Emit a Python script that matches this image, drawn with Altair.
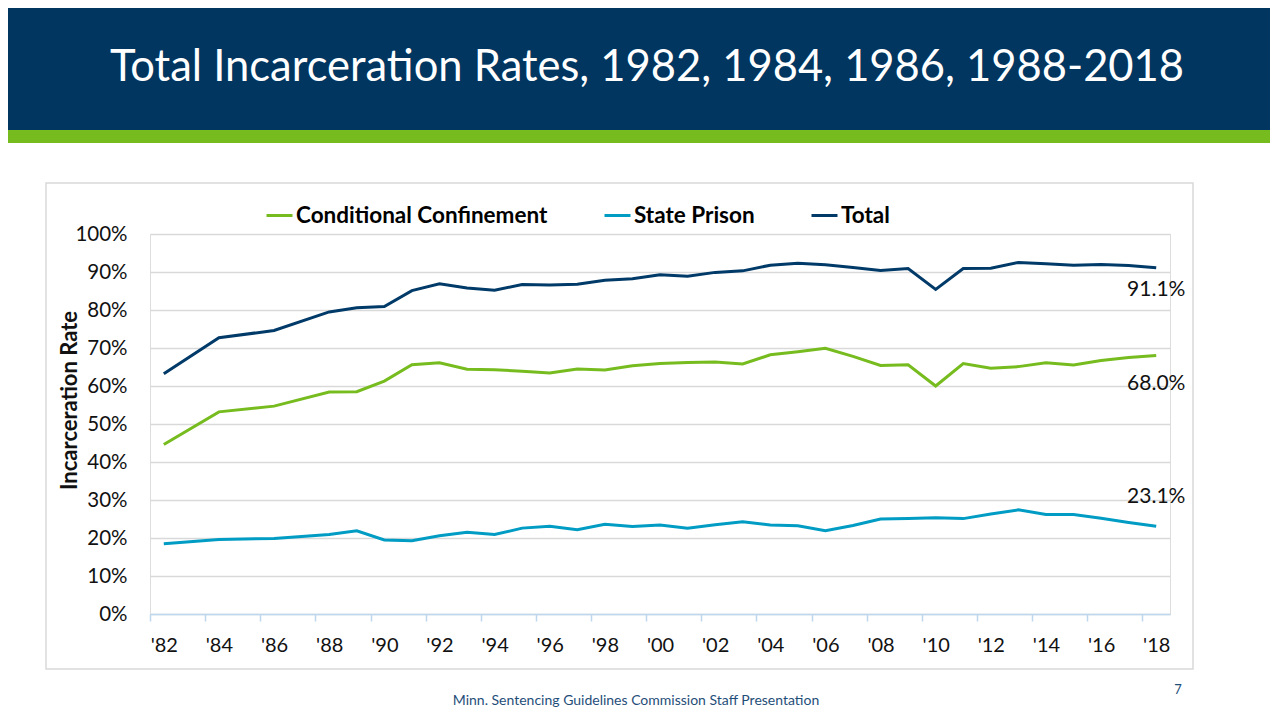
import altair as alt
import pandas as pd

# ---------------- data ----------------
years = [1982, 1984, 1986, 1988, 1989, 1990, 1991, 1992, 1993, 1994, 1995, 1996,
         1997, 1998, 1999, 2000, 2001, 2002, 2003, 2004, 2005, 2006, 2007, 2008,
         2009, 2010, 2011, 2012, 2013, 2014, 2015, 2016, 2017, 2018]
conditional = [44.6, 53.2, 54.7, 58.4, 58.5, 61.3, 65.6, 66.1, 64.4, 64.3, 63.9, 63.4,
               64.5, 64.2, 65.3, 65.9, 66.2, 66.3, 65.8, 68.2, 69.0, 69.9, 67.8, 65.4,
               65.6, 60.0, 65.9, 64.7, 65.1, 66.1, 65.5, 66.7, 67.5, 68.0]
state_prison = [18.5, 19.6, 19.9, 20.9, 21.9, 19.5, 19.3, 20.6, 21.5, 20.9, 22.6, 23.1,
                22.2, 23.6, 23.0, 23.4, 22.6, 23.5, 24.3, 23.4, 23.2, 21.9, 23.3, 25.0,
                25.1, 25.3, 25.1, 26.3, 27.4, 26.2, 26.2, 25.2, 24.1, 23.1]
total = [63.2, 72.7, 74.6, 79.5, 80.6, 80.9, 85.1, 86.9, 85.8, 85.2, 86.7, 86.6,
         86.8, 87.8, 88.2, 89.3, 88.9, 89.9, 90.3, 91.8, 92.3, 91.9, 91.2, 90.4,
         90.9, 85.4, 90.9, 91.0, 92.5, 92.2, 91.8, 92.0, 91.7, 91.1]
series_names = ["Conditional Confinement", "State Prison", "Total"]
series_colors = ["#77BC1F", "#009CC4", "#003A68"]
y_ticks = [0, 10, 20, 30, 40, 50, 60, 70, 80, 90, 100]
x_tick_bounds = [1981.5, 1983.5, 1985.5, 1987.5, 1989.5, 1991.5, 1993.5, 1995.5,
                 1997.5, 1999.5, 2001.5, 2003.5, 2005.5, 2007.5, 2009.5, 2011.5,
                 2013.5, 2015.5, 2017.5]
end_labels = ["68.0%", "23.1%", "91.1%"]
title_text = "Total Incarceration Rates, 1982, 1984, 1986, 1988-2018"
footer_text = "Minn. Sentencing Guidelines Commission Staff Presentation"
page_number = "7"

rows = []
for name, vals in zip(series_names, [conditional, state_prison, total]):
    for yr, v in zip(years, vals):
        rows.append({"year": yr, "rate": v, "series": name})
df = pd.DataFrame(rows)

end_df = pd.DataFrame({
    "year": [years[-1]] * 3,
    "rate": [conditional[-1], state_prison[-1], total[-1]],
    "label": end_labels,
    "series": series_names,
})

W, H = 1020, 380
FONT = "Lato"
TXT = "#111111"

xscale = alt.Scale(domain=[1981.5, 2018.5], nice=False, zero=False)
yscale = alt.Scale(domain=[0, 100], nice=False, zero=True)
one = pd.DataFrame({"k": [0]})

# ---------------- slide decoration ----------------
header = alt.Chart(one).mark_rect(color="#003660").encode(
    x=alt.value(-142), x2=alt.value(1121), y=alt.value(-226), y2=alt.value(-104))
green_bar = alt.Chart(one).mark_rect(color="#77BC1F").encode(
    x=alt.value(-142), x2=alt.value(1121), y=alt.value(-104), y2=alt.value(-91))
frame = alt.Chart(one).mark_rect(fillOpacity=0, stroke="#D9D9D9", strokeWidth=1.5).encode(
    x=alt.value(-104), x2=alt.value(1043), y=alt.value(-51), y2=alt.value(435))
title = alt.Chart(one).mark_text(
    text=title_text, font=FONT, fontSize=43.5, color="white", align="center",
    baseline="alphabetic").encode(x=alt.value(497), y=alt.value(-153))
footer = alt.Chart(one).mark_text(
    text=footer_text, font=FONT, fontSize=14, color="#1F4E79", align="center",
    baseline="middle").encode(x=alt.value(486), y=alt.value(467))
pnum = alt.Chart(one).mark_text(
    text=page_number, font=FONT, fontSize=13, color="#1F4E79", align="center",
    baseline="middle").encode(x=alt.value(1028), y=alt.value(456))

# ---------------- chart ----------------
x_axis = alt.Axis(
    values=x_tick_bounds,
    labelExpr="\"'\" + substring(toString(round(datum.value + 0.5)), 2, 4)",
    labelOffset=13.8, tickSize=7, tickColor="#BDD7EE", tickWidth=1.5,
    domainColor="#BDD7EE", domainWidth=1.5, grid=False, title=None,
    labelFont=FONT, labelFontSize=20, labelColor=TXT, labelPadding=14,
    labelFlush=False, labelOverlap=False)
y_axis = alt.Axis(
    values=y_ticks, labelExpr="datum.value + '%'", domain=False, ticks=False,
    grid=True, gridColor="#D9D9D9", gridWidth=1.3, labelOverlap=False,
    tickCount=11,
    labelFont=FONT, labelFontSize=20.5, labelColor=TXT, labelPadding=23,
    title="Incarceration Rate", titleFont=FONT, titleFontSize=22,
    titleFontWeight="bold", titleColor=TXT, titleAngle=270, titleX=-81,
    titleY=166, titleAlign="center", titleBaseline="middle")

lines = alt.Chart(df).mark_line(strokeWidth=3).encode(
    x=alt.X("year:Q", scale=xscale, axis=x_axis),
    y=alt.Y("rate:Q", scale=yscale, axis=y_axis),
    color=alt.Color("series:N", scale=alt.Scale(domain=series_names, range=series_colors),
                    legend=alt.Legend(orient="none", legendX=115, legendY=-33,
                                      direction="horizontal", title=None,
                                      symbolType="stroke", symbolSize=676,
                                      symbolStrokeWidth=3, labelFont=FONT,
                                      labelFontSize=22.5, labelFontWeight="bold",
                                      labelColor="#000000", columnPadding=50,
                                      labelOffset=2, labelLimit=500)),
)

def end_text(name, dy):
    return alt.Chart(end_df).transform_filter(alt.datum.series == name).mark_text(
        font=FONT, fontSize=21, color=TXT, align="center", baseline="middle", dy=dy
    ).encode(x=alt.X("year:Q", scale=xscale, axis=x_axis),
             y=alt.Y("rate:Q", scale=yscale, axis=y_axis),
             text="label:N")

labels = end_text("Total", 22) + end_text("Conditional Confinement", 28) + end_text("State Prison", -29)

chart = alt.layer(header, green_bar, frame, title, lines, labels, footer, pnum).properties(
    width=W, height=H,
    padding={"left": 142, "top": 226, "right": 100, "bottom": 98},
    autosize=alt.AutoSizeParams(type="none"),
).configure_view(stroke=None).configure(background="white")

chart.save("out.html", embed_options={"renderer": "svg", "actions": False})
